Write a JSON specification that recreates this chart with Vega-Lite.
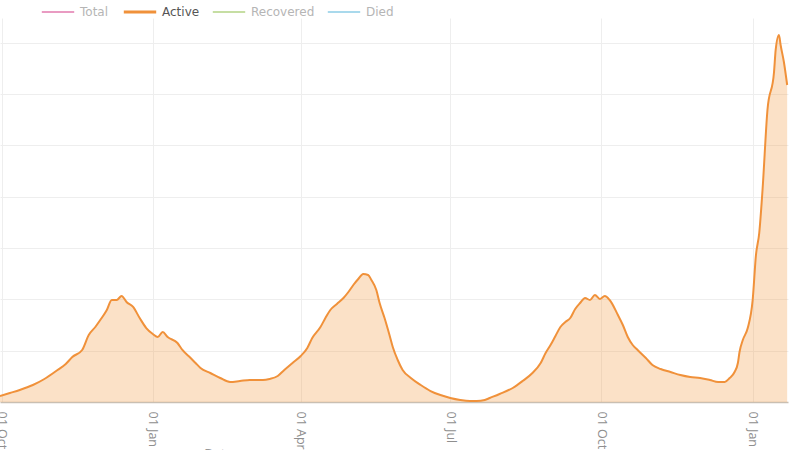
{
  "$schema": "https://vega.github.io/schema/vega-lite/v6.json",
  "autosize": "none",
  "width": 788,
  "height": 384,
  "padding": {"left": 0, "top": 18, "right": 12, "bottom": 48},
  "background": "white",
  "config": {"view": {"stroke": null}, "font": "Open Sans"},
  "datasets": {
    "active": [
      {"date": "2020-09-30", "series": "Active", "cases": 117},
      {"date": "2020-10-06", "series": "Active", "cases": 175},
      {"date": "2020-10-12", "series": "Active", "cases": 234},
      {"date": "2020-10-20", "series": "Active", "cases": 331},
      {"date": "2020-10-27", "series": "Active", "cases": 448},
      {"date": "2020-11-04", "series": "Active", "cases": 624},
      {"date": "2020-11-09", "series": "Active", "cases": 741},
      {"date": "2020-11-13", "series": "Active", "cases": 877},
      {"date": "2020-11-19", "series": "Active", "cases": 1014},
      {"date": "2020-11-23", "series": "Active", "cases": 1306},
      {"date": "2020-11-27", "series": "Active", "cases": 1462},
      {"date": "2020-11-30", "series": "Active", "cases": 1598},
      {"date": "2020-12-04", "series": "Active", "cases": 1793},
      {"date": "2020-12-07", "series": "Active", "cases": 1988},
      {"date": "2020-12-10", "series": "Active", "cases": 1988},
      {"date": "2020-12-13", "series": "Active", "cases": 2066},
      {"date": "2020-12-16", "series": "Active", "cases": 1949},
      {"date": "2020-12-20", "series": "Active", "cases": 1852},
      {"date": "2020-12-24", "series": "Active", "cases": 1637},
      {"date": "2020-12-28", "series": "Active", "cases": 1442},
      {"date": "2021-01-01", "series": "Active", "cases": 1326},
      {"date": "2021-01-04", "series": "Active", "cases": 1267},
      {"date": "2021-01-07", "series": "Active", "cases": 1365},
      {"date": "2021-01-10", "series": "Active", "cases": 1267},
      {"date": "2021-01-16", "series": "Active", "cases": 1150},
      {"date": "2021-01-19", "series": "Active", "cases": 1014},
      {"date": "2021-01-24", "series": "Active", "cases": 858},
      {"date": "2021-01-27", "series": "Active", "cases": 760},
      {"date": "2021-01-30", "series": "Active", "cases": 663},
      {"date": "2021-02-05", "series": "Active", "cases": 565},
      {"date": "2021-02-11", "series": "Active", "cases": 468},
      {"date": "2021-02-17", "series": "Active", "cases": 390},
      {"date": "2021-02-23", "series": "Active", "cases": 409},
      {"date": "2021-03-01", "series": "Active", "cases": 429},
      {"date": "2021-03-09", "series": "Active", "cases": 429},
      {"date": "2021-03-13", "series": "Active", "cases": 448},
      {"date": "2021-03-18", "series": "Active", "cases": 507},
      {"date": "2021-03-22", "series": "Active", "cases": 624},
      {"date": "2021-03-27", "series": "Active", "cases": 760},
      {"date": "2021-04-01", "series": "Active", "cases": 897},
      {"date": "2021-04-05", "series": "Active", "cases": 1053},
      {"date": "2021-04-08", "series": "Active", "cases": 1248},
      {"date": "2021-04-13", "series": "Active", "cases": 1462},
      {"date": "2021-04-16", "series": "Active", "cases": 1637},
      {"date": "2021-04-19", "series": "Active", "cases": 1793},
      {"date": "2021-04-23", "series": "Active", "cases": 1910},
      {"date": "2021-04-27", "series": "Active", "cases": 2027},
      {"date": "2021-04-30", "series": "Active", "cases": 2144},
      {"date": "2021-05-03", "series": "Active", "cases": 2281},
      {"date": "2021-05-06", "series": "Active", "cases": 2398},
      {"date": "2021-05-09", "series": "Active", "cases": 2495},
      {"date": "2021-05-12", "series": "Active", "cases": 2476},
      {"date": "2021-05-14", "series": "Active", "cases": 2378},
      {"date": "2021-05-17", "series": "Active", "cases": 2183},
      {"date": "2021-05-19", "series": "Active", "cases": 1930},
      {"date": "2021-05-22", "series": "Active", "cases": 1637},
      {"date": "2021-05-25", "series": "Active", "cases": 1306},
      {"date": "2021-05-27", "series": "Active", "cases": 1072},
      {"date": "2021-05-30", "series": "Active", "cases": 819},
      {"date": "2021-06-02", "series": "Active", "cases": 624},
      {"date": "2021-06-07", "series": "Active", "cases": 468},
      {"date": "2021-06-13", "series": "Active", "cases": 331},
      {"date": "2021-06-19", "series": "Active", "cases": 214},
      {"date": "2021-06-25", "series": "Active", "cases": 136},
      {"date": "2021-07-01", "series": "Active", "cases": 78},
      {"date": "2021-07-07", "series": "Active", "cases": 39},
      {"date": "2021-07-13", "series": "Active", "cases": 19},
      {"date": "2021-07-17", "series": "Active", "cases": 19},
      {"date": "2021-07-22", "series": "Active", "cases": 39},
      {"date": "2021-07-25", "series": "Active", "cases": 78},
      {"date": "2021-07-31", "series": "Active", "cases": 156},
      {"date": "2021-08-08", "series": "Active", "cases": 273},
      {"date": "2021-08-14", "series": "Active", "cases": 409},
      {"date": "2021-08-20", "series": "Active", "cases": 565},
      {"date": "2021-08-25", "series": "Active", "cases": 760},
      {"date": "2021-08-28", "series": "Active", "cases": 955},
      {"date": "2021-08-31", "series": "Active", "cases": 1111},
      {"date": "2021-09-03", "series": "Active", "cases": 1287},
      {"date": "2021-09-06", "series": "Active", "cases": 1462},
      {"date": "2021-09-09", "series": "Active", "cases": 1559},
      {"date": "2021-09-12", "series": "Active", "cases": 1637},
      {"date": "2021-09-15", "series": "Active", "cases": 1813},
      {"date": "2021-09-18", "series": "Active", "cases": 1930},
      {"date": "2021-09-21", "series": "Active", "cases": 2027},
      {"date": "2021-09-24", "series": "Active", "cases": 1988},
      {"date": "2021-09-27", "series": "Active", "cases": 2086},
      {"date": "2021-09-30", "series": "Active", "cases": 2008},
      {"date": "2021-10-03", "series": "Active", "cases": 2066},
      {"date": "2021-10-06", "series": "Active", "cases": 1988},
      {"date": "2021-10-11", "series": "Active", "cases": 1696},
      {"date": "2021-10-14", "series": "Active", "cases": 1501},
      {"date": "2021-10-17", "series": "Active", "cases": 1267},
      {"date": "2021-10-20", "series": "Active", "cases": 1111},
      {"date": "2021-10-23", "series": "Active", "cases": 1014},
      {"date": "2021-10-28", "series": "Active", "cases": 858},
      {"date": "2021-11-01", "series": "Active", "cases": 721},
      {"date": "2021-11-06", "series": "Active", "cases": 643},
      {"date": "2021-11-12", "series": "Active", "cases": 585},
      {"date": "2021-11-18", "series": "Active", "cases": 526},
      {"date": "2021-11-24", "series": "Active", "cases": 487},
      {"date": "2021-11-30", "series": "Active", "cases": 468},
      {"date": "2021-12-06", "series": "Active", "cases": 429},
      {"date": "2021-12-11", "series": "Active", "cases": 390},
      {"date": "2021-12-15", "series": "Active", "cases": 390},
      {"date": "2021-12-18", "series": "Active", "cases": 468},
      {"date": "2021-12-21", "series": "Active", "cases": 585},
      {"date": "2021-12-23", "series": "Active", "cases": 760},
      {"date": "2021-12-24", "series": "Active", "cases": 975},
      {"date": "2021-12-26", "series": "Active", "cases": 1209},
      {"date": "2021-12-29", "series": "Active", "cases": 1442},
      {"date": "2022-01-01", "series": "Active", "cases": 1988},
      {"date": "2022-01-03", "series": "Active", "cases": 2865},
      {"date": "2022-01-05", "series": "Active", "cases": 3294},
      {"date": "2022-01-07", "series": "Active", "cases": 4133},
      {"date": "2022-01-10", "series": "Active", "cases": 5692},
      {"date": "2022-01-14", "series": "Active", "cases": 6433},
      {"date": "2022-01-15", "series": "Active", "cases": 6862},
      {"date": "2022-01-17", "series": "Active", "cases": 7154},
      {"date": "2022-01-18", "series": "Active", "cases": 6959},
      {"date": "2022-01-20", "series": "Active", "cases": 6628},
      {"date": "2022-01-22", "series": "Active", "cases": 6179}
    ]
  },
  "data": {"name": "active"},
  "encoding": {
    "x": {
      "field": "date",
      "type": "temporal",
      "scale": {"domain": ["2020-09-30T00:00:00", "2022-01-22T12:00:00"]},
      "axis": {
        "title": "Date",
        "titleX": 218,
        "titleY": 45,
        "titleBaseline": "top",
        "titleAlign": "center",
        "titleColor": "#999",
        "titleFontSize": 13,
        "titleFontWeight": "normal",
        "values": ["2020-10-01T00:00:00", "2021-01-01T00:00:00", "2021-04-01T00:00:00", "2021-07-01T00:00:00", "2021-10-01T00:00:00", "2022-01-01T00:00:00"],
        "format": "%d %b",
        "labelAngle": 90,
        "labelColor": "#8f8f8f",
        "labelFontSize": 12.5,
        "labelPadding": 9,
        "ticks": false,
        "grid": true,
        "gridColor": "#eeeeee",
        "domainColor": "#c9bfb2",
        "domainWidth": 1.5
      }
    },
    "y": {
      "field": "cases",
      "type": "quantitative",
      "scale": {"domain": [0, 7485], "nice": false},
      "axis": {
        "title": null,
        "labels": false,
        "ticks": false,
        "domain": false,
        "values": [1000, 2000, 3000, 4000, 5000, 6000, 7000],
        "grid": true,
        "gridColor": "#eeeeee"
      }
    }
  },
  "layer": [
    {
      "mark": {"type": "area", "color": "#f39a45", "fillOpacity": 0.3, "interpolate": "monotone"}
    },
    {
      "mark": {"type": "line", "strokeWidth": 2, "interpolate": "monotone"},
      "encoding": {
        "color": {
          "field": "series",
          "type": "nominal",
          "scale": {"domain": ["Total", "Active", "Recovered", "Died"], "range": ["#e99bc2", "#f0913a", "#c6dea3", "#a9d9ec"]},
          "legend": {
            "title": null,
            "orient": "none",
            "direction": "horizontal",
            "legendX": 52,
            "legendY": -12,
            "symbolType": "stroke",
            "symbolSize": 1050,
            "symbolStrokeWidth": 2,
            "labelFont": "DejaVu Sans",
            "labelFontSize": 12,
            "labelColor": "#b5b5b5",
            "labelOffset": 16,
            "columnPadding": 8,
            "encode": {
              "labels": {"update": {"fill": {"signal": "datum.value === 'Active' ? '#555555' : '#b5b5b5'"}}},
              "symbols": {"update": {"strokeWidth": {"signal": "datum.value === 'Active' ? 3 : 2"}}}
            }
          }
        }
      }
    }
  ]
}
